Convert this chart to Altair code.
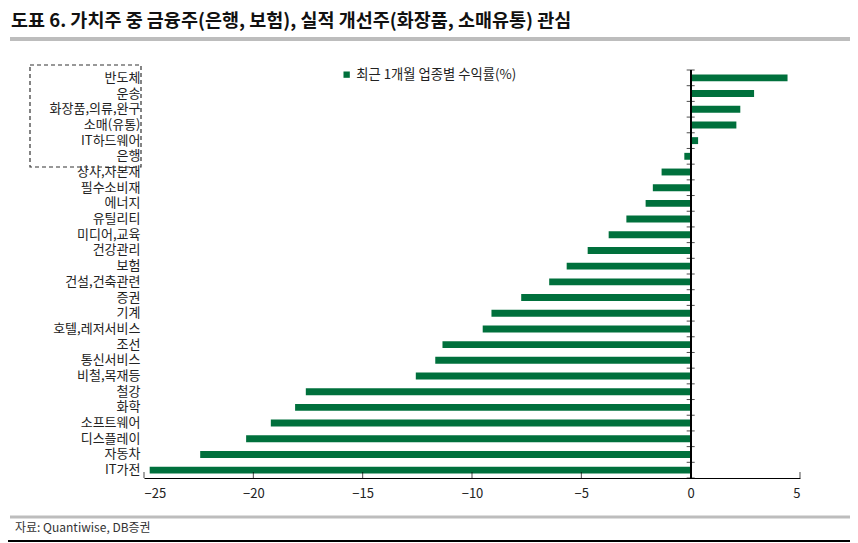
import pandas as pd
import altair as alt

# --- 데이터 ---
sectors = [
    "반도체", "운송", "화장품,의류,완구", "소매(유통)", "IT하드웨어", "은행",
    "상사,자본재", "필수소비재", "에너지", "유틸리티", "미디어,교육", "건강관리",
    "보험", "건설,건축관련", "증권", "기계", "호텔,레저서비스", "조선",
    "통신서비스", "비철,목재등", "철강", "화학", "소프트웨어", "디스플레이",
    "자동차", "IT가전",
]
returns = [
    4.43, 2.9, 2.27, 2.09, 0.34, -0.29,
    -1.33, -1.73, -2.06, -2.94, -3.75, -4.71,
    -5.67, -6.47, -7.75, -9.11, -9.51, -11.35,
    -11.68, -12.57, -17.6, -18.09, -19.2, -20.33,
    -22.43, -24.74,
]
x_ticks = [-25, -20, -15, -10, -5, 0, 5]
series_name = "최근 1개월 업종별 수익률(%)"
title_text = "도표 6. 가치주 중 금융주(은행, 보험), 실적 개선주(화장품, 소매유통) 관심"
source_text = "자료: Quantiwise, DB증권"

df = pd.DataFrame({"sector": sectors, "ret": returns, "series": series_name})

FONT = "Noto Sans CJK KR"
GREEN = "#00703c"
W, H = 656, 408
STEP = H / len(sectors)

y_enc = alt.Y(
    "sector:N",
    sort=sectors,
    scale=alt.Scale(paddingInner=0.56, paddingOuter=0.28),
    axis=alt.Axis(
        title=None, domain=False, ticks=False, labelPadding=4,
        labelFont=FONT, labelFontSize=13, labelColor="#222",
    ),
)
x_scale = alt.Scale(domain=[-25, 5], nice=False, zero=False)

bars = alt.Chart(df).mark_bar(color=GREEN).encode(
    x=alt.X(
        "ret:Q",
        scale=x_scale,
        axis=alt.Axis(
            title=None, values=x_ticks, tickSize=0, grid=False,
            domainColor="#000", labelFont=FONT, labelFontSize=13,
            labelColor="#222", labelPadding=9,
        ),
    ),
    y=y_enc,
    color=alt.Color(
        "series:N",
        scale=alt.Scale(range=[GREEN]),
        legend=alt.Legend(
            title=None, orient="none", legendX=196, legendY=-2,
            symbolType="square", symbolSize=40, symbolStrokeWidth=0,
            labelFont=FONT, labelFontSize=13.3, labelColor="#222",
            labelOffset=3,
        ),
    ),
)

# --- 0 기준선과 눈금 ---
zero_line = alt.Chart(df).mark_rule(color="#000", strokeWidth=1).encode(
    x=alt.datum(0, scale=x_scale), y=alt.value(0), y2=alt.value(H)
)
y_ticks = alt.Chart(df).mark_tick(
    orient="horizontal", color="#000", size=8, thickness=1, yOffset=-STEP / 2
).encode(x=alt.datum(0), y=y_enc)
last_tick = alt.Chart(df.tail(1)).mark_tick(
    orient="horizontal", color="#000", size=8, thickness=1, yOffset=STEP / 2
).encode(x=alt.datum(0), y=y_enc)

tick_df = pd.DataFrame({"v": x_ticks})
x_tick_marks = alt.Chart(tick_df).mark_tick(
    orient="vertical", color="#000", size=6, thickness=1
).encode(x=alt.X("v:Q"), y=alt.value(H - 3))

# --- 제목, 점선 박스, 구분선, 출처 ---
title = alt.Chart(df.head(1)).mark_text(
    align="left", baseline="middle", font=FONT, fontSize=18.5,
    fontWeight="bold", color="#111",
).encode(x=alt.value(-133), y=alt.value(-49), text=alt.value(title_text))

box = alt.Chart(df.head(1)).mark_rect(
    filled=False, stroke="#333", strokeWidth=1.2, strokeDash=[4, 3]
).encode(x=alt.value(-114), x2=alt.value(-3), y=alt.value(-5), y2=alt.value(97))

title_line = alt.Chart(df.head(1)).mark_rule(color="#bdbdbd", strokeWidth=4).encode(
    x=alt.value(-134), x2=alt.value(714), y=alt.value(-31)
)
foot_line = alt.Chart(df.head(1)).mark_rule(color="#bdbdbd", strokeWidth=3).encode(
    x=alt.value(-134), x2=alt.value(714), y=alt.value(39 + H)
)
bottom_line = alt.Chart(df.head(1)).mark_rule(color="#000", strokeWidth=2).encode(
    x=alt.value(-144), x2=alt.value(714), y=alt.value(63 + H)
)
source = alt.Chart(df.head(1)).mark_text(
    align="left", baseline="middle", font=FONT, fontSize=12, color="#333"
).encode(x=alt.value(-129), y=alt.value(50 + H), text=alt.value(source_text))

chart = (
    alt.layer(
        title, title_line, foot_line, bottom_line, box, bars, zero_line,
        y_ticks, last_tick, x_tick_marks, source,
    )
    .properties(
        width=W, height=H,
        autosize=alt.AutoSizeParams(type="none"),
        padding={"left": 136, "top": 62, "right": 50, "bottom": 65},
    )
    .configure_view(stroke=None)
)

chart.save("out.html", embed_options={"renderer": "svg", "actions": False})
